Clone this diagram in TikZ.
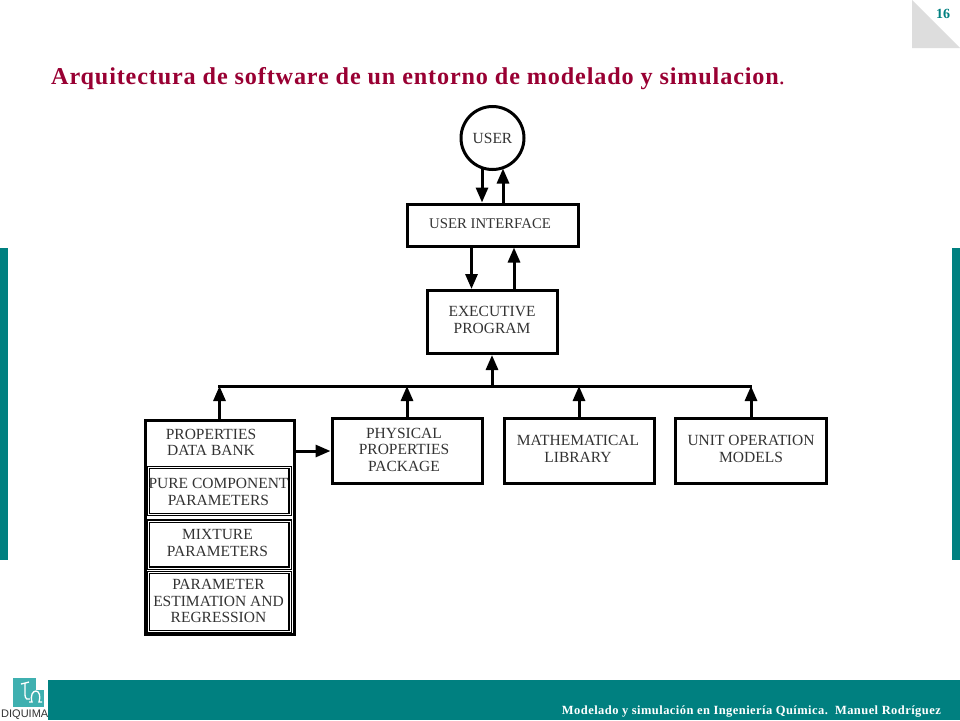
\documentclass[tikz,border=0pt]{standalone}
\usepackage{fontspec}
\setmainfont{Liberation Serif}
\newfontfamily\logofont{Liberation Sans}
\newfontfamily\spacedfont[LetterSpace=3.5]{Liberation Serif}
\usetikzlibrary{arrows.meta,calc}
\definecolor{tealbar}{HTML}{008080}
\definecolor{logoteal}{HTML}{3FB0B0}
\definecolor{titlered}{HTML}{990033}
\definecolor{cornergrey}{HTML}{DDDDDD}
\definecolor{inkgrey}{HTML}{333333}
\tikzset{
  x=1pt,y=-1pt,
  labeltext/.style={text=inkgrey,align=center,inner sep=0pt,font=\fontsize{15.5}{16.5}\selectfont},
  bx/.style={draw=black,line width=3pt,fill=white},
  dbl/.style={draw=black,line width=1.4pt,double=white,double distance=0.8pt},
  arr/.style={line width=3pt,-{Triangle[length=15pt,width=12pt]}},
  bar/.style={fill=tealbar,draw=none},
}
\begin{document}
\begin{tikzpicture}
\useasboundingbox (0,0) rectangle (960,720);
\fill[white] (0,0) rectangle (960,720);
% slide furniture
\fill[bar] (0,248) rectangle (8,560);
\fill[bar] (952,248) rectangle (960,560);
\fill[bar] (48,680) rectangle (960,720);
\fill[cornergrey] (912,0) -- (960,48) -- (912,48) -- cycle;
\node[text=tealbar,font=\bfseries\fontsize{14}{14}\selectfont] (num) at (943,14) {16};
\node[anchor=west,text=titlered,inner sep=0pt,font=\spacedfont\bfseries\fontsize{24.2}{25}\selectfont] (title) at (51,79)
  {Arquitectura de software de un entorno de modelado y simulacion\textmd{.}};
\node[anchor=east,text=white,inner sep=0pt,font=\spacedfont\bfseries\fontsize{12.5}{13}\selectfont] (foot) at (941,711.5)
  {Modelado y simulación en Ingeniería Química.\ \ Manuel Rodríguez};
% logo
\fill[logoteal] (13,678) rectangle (36,707);
\fill[logoteal] (36,690) rectangle (44,707);
\draw[white,line width=1.3pt] (21,684) .. controls (24,682) and (27,684) .. (29,682);
\draw[white,line width=1.3pt] (25,683) -- (25,695) .. controls (25,699) and (28,700) .. (30,699);
\draw[white,line width=1.3pt] (29,702) -- (32,702) .. controls (30,695) and (33,691) .. (36,691) .. controls (39,691) and (41,696) .. (39,702) -- (42,702);
\node[anchor=west,inner sep=0pt,text=inkgrey,font=\logofont\fontsize{11}{11}\selectfont] (logo) at (1,714.5) {DIQUIMA};
% diagram nodes
\node[bx,circle,minimum size=63pt] (user) at (492.5,138) {};
\node[labeltext] (usert) at (492.5,138) {USER};
\node[bx,minimum width=171pt,minimum height=42pt] (ui) at (492.5,225) {};
\node[labeltext,font=\fontsize{14.8}{16.5}\selectfont] (uit) at (490,223.5) {USER INTERFACE};
\node[bx,minimum width=130pt,minimum height=63pt] (exec) at (492,322) {};
\node[labeltext] (exect) at (492,320) {EXECUTIVE\\PROGRAM};
\node[bx,minimum width=149pt,minimum height=214pt] (bank) at (219.5,527) {};
\node[labeltext] (banktext) at (211,442.5) {PROPERTIES\\DATA BANK};
\node[dbl,minimum width=142pt,minimum height=47pt] (pure) at (219,491) {};
\node[labeltext] (puret) at (218.5,492) {PURE COMPONENT\\PARAMETERS};
\node[dbl,minimum width=142pt,minimum height=47pt] (mix) at (219,544.5) {};
\node[labeltext] (mixt) at (217.5,543) {MIXTURE\\PARAMETERS};
\node[dbl,minimum width=142pt,minimum height=59pt] (est) at (219,602) {};
\node[labeltext] (estt) at (218.5,601) {PARAMETER\\ESTIMATION AND\\REGRESSION};
\node[bx,minimum width=150pt,minimum height=65pt] (phys) at (407,451) {};
\node[labeltext] (physt) at (404,449.5) {PHYSICAL\\PROPERTIES\\PACKAGE};
\node[bx,minimum width=150pt,minimum height=65pt] (math) at (579,451) {};
\node[labeltext] (matht) at (578,449) {MATHEMATICAL\\LIBRARY};
\node[bx,minimum width=151pt,minimum height=65pt] (unit) at (751,451) {};
\node[labeltext] (unitt) at (751,449) {UNIT OPERATION\\MODELS};
% bus and anchors
\coordinate (busL) at (218,386);
\coordinate (busR) at (752,386);
\draw[line width=3pt] (busL) -- (busR);
\coordinate (userA) at (482,168.5);
\coordinate (userB) at (503,168.5);
% connectors
\draw[arr] (userA) -- (userA |- ui.north);
\draw[arr] (userB |- ui.north) -- (userB);
\draw[arr] ($(ui.south)+(-21,0)$) -- ($(exec.north)+(-20.5,0)$);
\draw[arr] ($(exec.north)+(22,0)$) -- ($(ui.south)+(21.5,0)$);
\draw[arr] (exec.south |- busL) -- (exec.south);
\draw[arr] (bank.north) -- (bank.north |- busL);
\draw[arr] (phys.north) -- (phys.north |- busL);
\draw[arr] (math.north) -- (math.north |- busL);
\draw[arr] (unit.north) -- (unit.north |- busL);
\draw[arr] (bank.east |- phys.center) -- (phys.west);
\end{tikzpicture}
\end{document}
